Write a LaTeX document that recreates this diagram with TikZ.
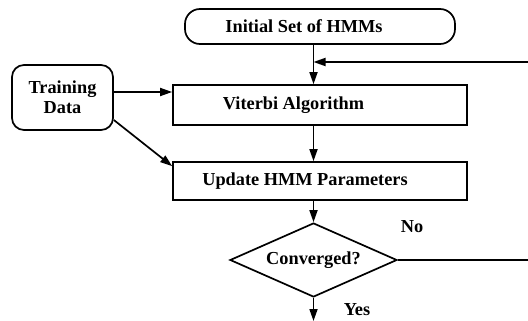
\documentclass[tikz,border=0pt]{standalone}
\usepackage{fontspec}
\setmainfont{Liberation Serif}
\usetikzlibrary{shapes.geometric,arrows.meta}
\begin{document}
\begin{tikzpicture}[x=1pt,y=-1pt,
  every node/.style={font=\fontsize{18.3}{19}\selectfont\bfseries},
  box/.style={draw,line width=1.7pt,inner sep=0pt},
  arr/.style={line width=1.7pt,-{Triangle[length=12pt,width=8pt]}},
  ln/.style={line width=1.7pt}]
\useasboundingbox (0,0) rectangle (528,321);
\node[box,rounded corners=15pt,minimum width=270pt,minimum height=35pt] (init) at (320,26.5) {Initial Set of HMMs\kern32pt};
\node[box,rounded corners=12pt,minimum width=101pt,minimum height=65pt,align=center,font=\fontsize{18.3}{20}\selectfont\bfseries] (train) at (62.5,97.5) {Training\\Data};
\node[box,minimum width=294pt,minimum height=40pt] (vit) at (320,105) {Viterbi Algorithm\kern53pt};
\node[box,minimum width=294pt,minimum height=38pt] (upd) at (320,181) {Update HMM Parameters\kern30pt};
\node[box,diamond,aspect=2.26,minimum width=167pt,minimum height=74pt] (conv) at (313.5,260) {Converged?};
\node (no) at (412,227) {No};
\node (yes) at (357,310) {Yes};
\coordinate (fbR) at (528,62);
\coordinate (noR) at (528,260);
\coordinate (yesE) at (313.5,321);
\coordinate (tdA) at ([yshift=5.5pt]train.east);
\coordinate (tdB) at ([yshift=-22.5pt]train.east);
\draw[arr] (conv.north |- init.south) -- (conv.north |- vit.north);
\draw[arr] (fbR) -- (conv.north |- fbR);
\draw[arr] (conv.north |- vit.south) -- (conv.north |- upd.north);
\draw[arr] (conv.north |- upd.south) -- (conv.north);
\draw[ln] (conv.east) -- (noR);
\draw[arr] (conv.south) -- (yesE);
\draw[arr] (tdA) -- (vit.west |- tdA);
\draw[arr] (tdB) -- ([yshift=-5pt]upd.north west);
\end{tikzpicture}
\end{document}
